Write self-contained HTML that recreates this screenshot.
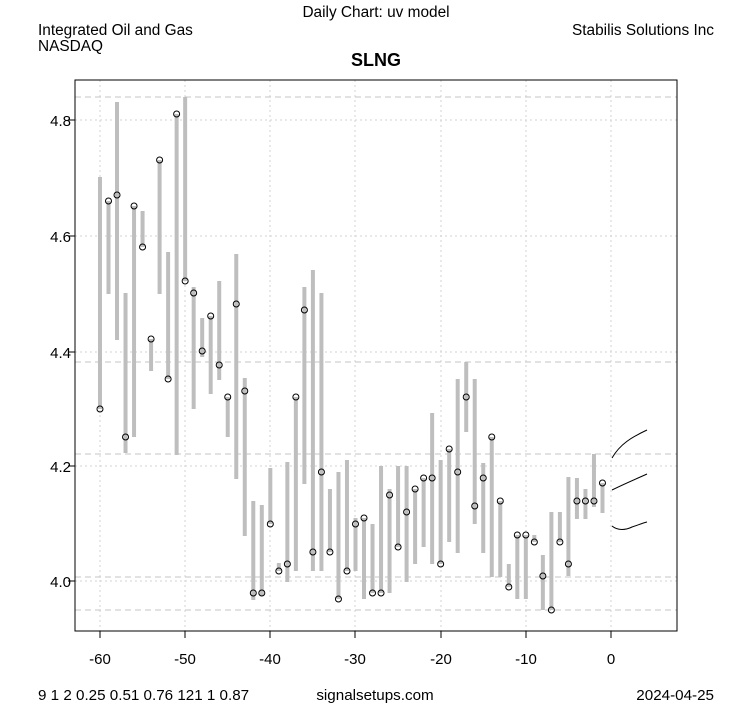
<!DOCTYPE html>
<html><head><meta charset="utf-8"><style>
html,body{margin:0;padding:0;background:#fff;}
svg{display:block;font-family:"Liberation Sans",Arial,sans-serif;}
</style></head><body>
<svg id="s" width="753" height="708" viewBox="0 0 753 708" xmlns="http://www.w3.org/2000/svg">
<rect width="753" height="708" fill="#fff"/>
<g stroke="#d3d3d3" stroke-width="1" stroke-dasharray="2,3">
<line x1="100" y1="80" x2="100" y2="631"/><line x1="185" y1="80" x2="185" y2="631"/><line x1="270" y1="80" x2="270" y2="631"/><line x1="355" y1="80" x2="355" y2="631"/><line x1="441" y1="80" x2="441" y2="631"/><line x1="526" y1="80" x2="526" y2="631"/><line x1="611" y1="80" x2="611" y2="631"/>
<line x1="75" y1="120" x2="677" y2="120"/><line x1="75" y1="236" x2="677" y2="236"/><line x1="75" y1="352" x2="677" y2="352"/><line x1="75" y1="466" x2="677" y2="466"/><line x1="75" y1="581" x2="677" y2="581"/>
</g>
<g stroke="#c4c4c4" stroke-width="1" stroke-dasharray="6,4">
<line x1="75" y1="97" x2="677" y2="97"/><line x1="75" y1="362" x2="677" y2="362"/><line x1="75" y1="454" x2="677" y2="454"/><line x1="75" y1="577" x2="677" y2="577"/><line x1="75" y1="610" x2="677" y2="610"/>
</g>
<g id="bars" stroke="#bebebe" stroke-width="4"></g>
<g id="pts" fill="none" stroke="#000" stroke-width="1"></g>
<g fill="none" stroke="#000" stroke-width="1">
<path d="M612,458 C620,444 632,437 647,430"/>
<path d="M612,490 C624,484 636,479 647,474"/>
<path d="M612,526 C618,531 626,530 632,527 C638,525 643,523 647,522"/>
</g>
<rect x="75" y="80" width="602" height="551" fill="none" stroke="#000" stroke-width="1"/>
<g stroke="#000" stroke-width="1">
<line x1="100" y1="631" x2="100" y2="638"/><line x1="185" y1="631" x2="185" y2="638"/><line x1="270" y1="631" x2="270" y2="638"/><line x1="355" y1="631" x2="355" y2="638"/><line x1="441" y1="631" x2="441" y2="638"/><line x1="526" y1="631" x2="526" y2="638"/><line x1="611" y1="631" x2="611" y2="638"/>
<line x1="68" y1="120" x2="75" y2="120"/><line x1="68" y1="236" x2="75" y2="236"/><line x1="68" y1="352" x2="75" y2="352"/><line x1="68" y1="466" x2="75" y2="466"/><line x1="68" y1="581" x2="75" y2="581"/>
</g>
<g font-size="15" fill="#000" text-anchor="middle">
<text x="100" y="664">-60</text><text x="185" y="664">-50</text><text x="270" y="664">-40</text><text x="355" y="664">-30</text><text x="441" y="664">-20</text><text x="526" y="664">-10</text><text x="611" y="664">0</text>
</g>
<g font-size="15" fill="#000" text-anchor="end">
<text x="71" y="126">4.8</text><text x="71" y="242">4.6</text><text x="71" y="358">4.4</text><text x="71" y="472">4.2</text><text x="71" y="587">4.0</text>
</g>
<text x="376" y="17" font-size="15.4" text-anchor="middle">Daily Chart: uv model</text>
<text x="38" y="35" font-size="15.4">Integrated Oil and Gas</text>
<text x="38" y="51" font-size="15.4">NASDAQ</text>
<text x="714" y="35" font-size="15.4" text-anchor="end">Stabilis Solutions Inc</text>
<text x="376" y="66" font-size="18" font-weight="bold" text-anchor="middle">SLNG</text>
<text x="38" y="700" font-size="15.2">9 1 2 0.25 0.51 0.76 121 1 0.87</text>
<text x="375" y="700" font-size="15.2" text-anchor="middle">signalsetups.com</text>
<text x="714" y="700" font-size="15.2" text-anchor="end">2024-04-25</text>
</svg>
<script>
var d=[[177,409,409],[201,294,201],[102,340,195],[293,453,437],[206,437,206],[211,247,247],[339,371,339],[160,294,160],[252,379,379],[114,455,114],
[97,281,281],[287,409,293],[318,357,351],[316,394,316],[281,380,365],[397,437,397],[254,479,304],[378,536,391],[501,600,593],[505,596,593],
[468,524,524],[563,571,571],[462,582,564],[397,571,397],[287,484,310],[270,571,552],[293,571,472],[489,552,552],[472,599,599],[460,571,571],
[518,571,524],[518,599,518],[524,593,593],[466,593,593],[489,593,495],[466,547,547],[466,582,512],[489,564,489],[478,547,478],[413,564,478],
[460,564,564],[449,542,449],[379,553,472],[362,432,397],[379,524,506],[463,553,478],[437,577,437],[501,577,501],[564,587,587],[535,599,535],
[535,599,535],[535,542,542],[555,610,576],[512,610,610],[512,542,542],[477,576,564],[478,519,501],[489,519,501],[454,507,501],[483,513,483]];
var ns="http://www.w3.org/2000/svg",b=document.getElementById("bars"),p=document.getElementById("pts");
d.forEach(function(r,i){var x=611-8.517*(60-i);
var l=document.createElementNS(ns,"line");l.setAttribute("x1",x);l.setAttribute("x2",x);l.setAttribute("y1",r[0]);l.setAttribute("y2",r[1]);b.appendChild(l);
var c=document.createElementNS(ns,"circle");c.setAttribute("cx",x);c.setAttribute("cy",r[2]);c.setAttribute("r",3);p.appendChild(c);});
</script>
</body></html>
